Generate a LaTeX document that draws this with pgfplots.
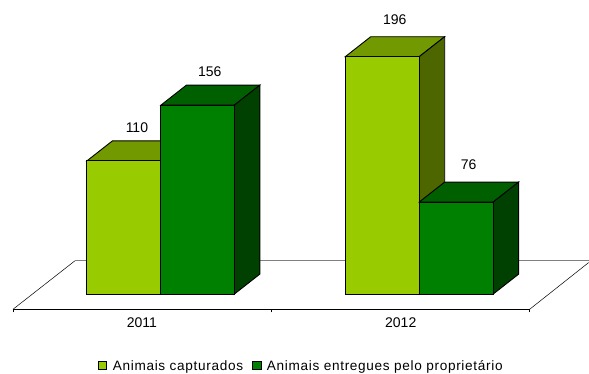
\documentclass[border=0pt]{standalone}
\usepackage{pgfplots}
\usepackage{fontspec}
\setmainfont{Liberation Sans}
\pgfplotsset{compat=1.18}
\definecolor{lightF}{HTML}{99CC00}
\definecolor{lightT}{HTML}{739900}
\definecolor{lightS}{HTML}{4D6600}
\definecolor{darkF}{HTML}{008000}
\definecolor{darkT}{HTML}{006000}
\definecolor{darkS}{HTML}{004000}
\begin{document}
\begin{tikzpicture}
\begin{axis}[
  scale only axis, width=517pt, height=309.5pt,
  xmin=13, xmax=530, ymin=-12.55, ymax=242.8,
  clip=false,
  axis y line=none, axis x line=bottom,
  axis line style={-, black, line width=0.9pt},
  xtick={13,271.5,530}, xticklabels={},
  tick align=outside, major tick length=3pt,
  xtick style={black, line width=0.6pt},
  extra x ticks={142,401}, extra x tick labels={2011,2012},
  extra x tick style={major tick length=0pt, tick style={draw=none}},
  xticklabel style={font=\fontsize{14}{16}\selectfont, yshift=-4.5pt},
  /pgf/number format/assume math mode=true,
  legend style={draw=none, fill=none, at={(axis cs:301.5,-59.3)}, anchor=center,
    font=\addfontfeatures{LetterSpace=5}\fontsize{13.6}{16}\selectfont, legend columns=2,
    inner sep=0pt, outer sep=0pt,
    /tikz/every even column/.append style={column sep=7pt},
    /tikz/every odd column/.append style={column sep=3.5pt}},
  legend cell align=left,
  legend image code/.code={\draw[#1, line width=0.9pt] (0pt,-4pt) rectangle (8.5pt,4pt);},
]
\path (axis cs:0,-63.55) rectangle (axis cs:589,242.8);
% floor
\addplot[forget plot, color=gray, line width=0.8pt] coordinates {(75,27.5) (589,27.5)};
\addplot[forget plot, black, line width=0.5pt] coordinates {(13,-12.55) (75,27.5)};
\addplot[forget plot, black, line width=0.5pt] coordinates {(530,-12.55) (589,26)};
% 2011 light
\addplot[forget plot, fill=lightT, draw=black, line width=0.9pt] coordinates {(87,110) (112.5,126.5) (186.5,126.5) (161,110)} --cycle;
\addplot[forget plot, fill=lightS, draw=black, line width=0.9pt] coordinates {(161,0) (186.5,16.5) (186.5,126.5) (161,110)} --cycle;
\addplot[forget plot, fill=lightF, draw=black, line width=0.9pt] coordinates {(87,0) (161,0) (161,110) (87,110)} --cycle;
% 2011 dark
\addplot[forget plot, fill=darkT, draw=black, line width=0.9pt] coordinates {(161,156) (186.5,172.5) (260,172.5) (234.5,156)} --cycle;
\addplot[forget plot, fill=darkS, draw=black, line width=0.9pt] coordinates {(234.5,0) (260,16.5) (260,172.5) (234.5,156)} --cycle;
\addplot[forget plot, fill=darkF, draw=black, line width=0.9pt] coordinates {(161,0) (234.5,0) (234.5,156) (161,156)} --cycle;
% 2012 light
\addplot[forget plot, fill=lightT, draw=black, line width=0.9pt] coordinates {(345.5,196) (371,212.5) (445,212.5) (419.5,196)} --cycle;
\addplot[forget plot, fill=lightS, draw=black, line width=0.9pt] coordinates {(419.5,0) (445,16.5) (445,212.5) (419.5,196)} --cycle;
\addplot[forget plot, fill=lightF, draw=black, line width=0.9pt] coordinates {(345.5,0) (419.5,0) (419.5,196) (345.5,196)} --cycle;
% 2012 dark
\addplot[forget plot, fill=darkT, draw=black, line width=0.9pt] coordinates {(419.5,76) (445,92.5) (519,92.5) (493.5,76)} --cycle;
\addplot[forget plot, fill=darkS, draw=black, line width=0.9pt] coordinates {(493.5,0) (519,16.5) (519,92.5) (493.5,76)} --cycle;
\addplot[forget plot, fill=darkF, draw=black, line width=0.9pt] coordinates {(419.5,0) (493.5,0) (493.5,76) (419.5,76)} --cycle;
% value labels
\addplot[forget plot, draw=none, mark=none, point meta=y,
  nodes near coords, nodes near coords align={center},
  every node near coord/.append style={font=\fontsize{14}{16}\selectfont, yshift=33pt, text=black,
    /pgf/number format/assume math mode=true}]
  coordinates {(137,110) (210,156)};
\addplot[forget plot, draw=none, mark=none, point meta=y,
  nodes near coords, nodes near coords align={center},
  every node near coord/.append style={font=\fontsize{14}{16}\selectfont, yshift=37pt, text=black,
    /pgf/number format/assume math mode=true}]
  coordinates {(395,196) (469,76)};
\addlegendimage{fill=lightF, draw=black}
\addlegendentry{Animais capturados}
\addlegendimage{fill=darkF, draw=black}
\addlegendentry{Animais entregues pelo proprietário}
\end{axis}
\end{tikzpicture}
\end{document}
